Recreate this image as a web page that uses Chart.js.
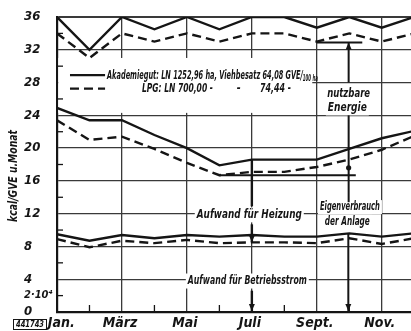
<!DOCTYPE html>
<html>
<head>
<meta charset="utf-8">
<script src="https://cdn.jsdelivr.net/npm/chart.js@4.4.1/dist/chart.umd.min.js"></script>
<style>
html, body { margin: 0; padding: 0; background: #fff; }
#wrap { width: 411px; height: 331px; position: relative; }
</style>
</head>
<body>
<div id="wrap"><canvas id="chart"></canvas></div>
<script>
// Monate, x = Index ab Januar (0 = Jan.)
const monate = ["Jan.", "Feb.", "März", "Apr.", "Mai", "Juni", "Juli", "Aug.", "Sept.", "Okt.", "Nov.", "Dez."];
const xBeschriftung = { 0: "\u2003Jan.", 2: "März", 4: "Mai", 6: "Juli", 8: "Sept.", 10: "Nov." };
const yBeschriftung = { 0: "0", 2: "2·10⁴", 4: "4", 8: "8", 12: "12", 16: "16", 20: "20", 24: "24", 28: "28", 32: "32", 36: "36" };

// obere Kurven: Gesamtaufwand (kcal/GVE u. Monat, x 10^4)
const akademieGesamt = [36, 32, 36, 34.5, 36, 34.5, 36, 36, 34.7, 36, 34.7, 36];
const lpgGesamt      = [34, 31, 34, 33, 34, 33, 34, 34, 33, 34, 33, 34];
// mittlere Kurven: bis Heizung
const akademieHeizung = [24.9, 23.4, 23.4, 21.6, 20.0, 17.9, 18.6, 18.6, 18.6, 19.9, 21.2, 22.1];
const lpgHeizung      = [23.4, 21.0, 21.4, 19.9, 18.2, 16.7, 17.1, 17.1, 17.7, 18.6, 19.8, 21.5];
// untere Kurven: Betriebsstrom
const akademieStrom = [9.5, 8.7, 9.4, 9.0, 9.4, 9.2, 9.4, 9.2, 9.2, 9.6, 9.2, 9.6];
const lpgStrom      = [8.9, 7.9, 8.7, 8.4, 8.8, 8.4, 8.5, 8.5, 8.4, 9.0, 8.3, 9.0];

const SCHRIFT = "'Liberation Sans Narrow', 'DejaVu Sans Condensed', 'Liberation Sans', sans-serif";
const TINTE = "#151515";
const GITTER = "#3a3a3a";

function font(size) { return "italic bold " + size + "px " + SCHRIFT; }

function punkte(werte) {
  return werte.map((v, i) => ({ x: i, y: v }));
}

function linie(werte, gestrichelt) {
  return {
    data: punkte(werte),
    borderColor: TINTE,
    borderWidth: 2.4,
    borderDash: gestrichelt ? [9, 5] : [],
    pointRadius: 0,
    tension: 0,
    fill: false
  };
}

// Text auf Zielbreite zusammendruecken (schmale Normschrift)
function schmalText(ctx, txt, x, y, w, size, align, winkel) {
  ctx.save();
  ctx.font = font(size);
  const mw = ctx.measureText(txt).width;
  const s = w / mw;
  ctx.translate(x, y);
  if (winkel) ctx.rotate(winkel);
  ctx.scale(s, 1);
  ctx.textAlign = align || "center";
  ctx.textBaseline = "middle";
  ctx.fillStyle = TINTE;
  ctx.fillText(txt, 0, 0);
  ctx.restore();
}

// Beschriftungen im Diagramm (m = Monat, v = Wert)
const beschriftung = [
  { t: "nutzbare", m: 8.98, v: 26.6, w: 43, s: 13 },
  { t: "Energie", m: 8.94, v: 24.9, w: 39, s: 13 },
  { t: "Aufwand für Heizung", m: 5.92, v: 11.85, w: 105, s: 13 },
  { t: "Eigenverbrauch", m: 9.02, v: 12.8, w: 60, s: 12 },
  { t: "der Anlage", m: 8.94, v: 11.0, w: 45, s: 12 },
  { t: "Aufwand für Betriebsstrom", m: 5.86, v: 3.78, w: 119, s: 13 }
];

function pfeilspitze(ctx, x, y, richtung) {
  const d = richtung === "hoch" ? 1 : -1;
  ctx.beginPath();
  ctx.moveTo(x, y);
  ctx.lineTo(x - 3, y + d * 7);
  ctx.lineTo(x + 3, y + d * 7);
  ctx.closePath();
  ctx.fill();
}

const zeichnung = {
  id: "zeichnung",
  beforeDatasetsDraw(chart) {
    const ctx = chart.ctx;
    const xs = chart.scales.x, ys = chart.scales.y;
    const P = (m, v) => ({ x: xs.getPixelForValue(m), y: ys.getPixelForValue(v) });

    // Legendenfeld (deckt das Gitter ab)
    const a = P(0.04, 31), b = P(7.86, 24.3);
    ctx.save();
    ctx.fillStyle = "#fff";
    ctx.fillRect(a.x, a.y, b.x - a.x, b.y - a.y);

    // weisse Felder hinter den Texten
    beschriftung.forEach(l => {
      const p = P(l.m, l.v);
      ctx.fillRect(p.x - l.w / 2 - 2, p.y - l.s / 2 - 1, l.w + 4, l.s + 2);
    });
    ctx.restore();

    beschriftung.forEach(l => {
      const p = P(l.m, l.v);
      schmalText(ctx, l.t, p.x, p.y, l.w, l.s);
    });

    // Legende
    const l1 = P(0.4, 28.9), l1e = P(1.48, 28.9);
    const l2 = P(0.4, 27.25), l2e = P(1.48, 27.25);
    ctx.save();
    ctx.strokeStyle = TINTE;
    ctx.lineWidth = 2.2;
    ctx.beginPath(); ctx.moveTo(l1.x, l1.y); ctx.lineTo(l1e.x, l1e.y); ctx.stroke();
    ctx.setLineDash([9, 5]);
    ctx.beginPath(); ctx.moveTo(l2.x, l2.y); ctx.lineTo(l2e.x, l2e.y); ctx.stroke();
    ctx.restore();

    const t1 = P(1.54, 28.9);
    schmalText(ctx, "Akademiegut: LN 1252,96 ha, Viehbesatz 64,08 GVE/", t1.x, t1.y, 196, 13, "left");
    const t1b = P(7.57, 28.4);
    schmalText(ctx, "100 ha", t1b.x, t1b.y, 15, 8, "left");
    const t2 = P(2.615, 27.3);
    schmalText(ctx, "LPG: LN 700,00 -", t2.x, t2.y, 71, 13, "left");
    const t2b = P(5.6, 27.3);
    schmalText(ctx, "-", t2b.x, t2b.y, 4, 13, "center");
    const t2c = P(6.25, 27.3);
    schmalText(ctx, "74,44 -", t2c.x, t2c.y, 31, 13, "left");

    // Achsentitel und Stempel
    schmalText(ctx, "kcal/GVE u.Monat", 14, 176, 92, 13, "center", -Math.PI / 2);
    ctx.save();
    ctx.strokeStyle = TINTE;
    ctx.lineWidth = 1;
    ctx.strokeRect(13.5, 319.5, 33, 10);
    ctx.restore();
    schmalText(ctx, "441743", 30, 324.5, 28, 8);
  },
  afterDatasetsDraw(chart) {
    const ctx = chart.ctx;
    const xs = chart.scales.x, ys = chart.scales.y;
    const P = (m, v) => ({ x: xs.getPixelForValue(m), y: ys.getPixelForValue(v) });
    const area = chart.chartArea;

    ctx.save();
    ctx.strokeStyle = TINTE;
    ctx.fillStyle = TINTE;

    // kleine Teilstriche innen
    ctx.lineWidth = 1.3;
    for (let v = 2; v < 36; v += 4) {
      const y = ys.getPixelForValue(v);
      ctx.beginPath(); ctx.moveTo(area.left, y); ctx.lineTo(area.left + 6, y); ctx.stroke();
    }
    for (let m = 1; m < 11; m += 2) {
      const x = xs.getPixelForValue(m);
      ctx.beginPath(); ctx.moveTo(x, area.bottom); ctx.lineTo(x, area.bottom - 7); ctx.stroke();
    }

    const strich = (m1, v1, m2, v2) => {
      const p = P(m1, v1), q = P(m2, v2);
      ctx.beginPath(); ctx.moveTo(p.x, p.y); ctx.lineTo(q.x, q.y); ctx.stroke();
    };

    ctx.lineWidth = 2;
    // nutzbare Energie
    strich(8.0, 32.9, 9.4, 32.9);
    strich(8.98, 32.9, 8.98, 28);
    let p = P(8.98, 32.9);
    pfeilspitze(ctx, p.x, p.y, "hoch");
    // Eigenverbrauch der Anlage
    strich(8.98, 24.0, 8.98, 13.4);
    p = P(8.98, 17.6);
    ctx.beginPath(); ctx.arc(p.x, p.y, 2.6, 0, Math.PI * 2); ctx.fill();
    strich(5.0, 16.7, 9.2, 16.7);
    strich(8.97, 9.6, 8.97, 0);
    p = P(8.97, 0);
    pfeilspitze(ctx, p.x, p.y - 1, "runter");
    // Aufwand fuer Heizung / Betriebsstrom (Juli)
    ctx.lineWidth = 2.4;
    strich(6, 18.6, 6, 12.9);
    strich(6, 10.7, 6, 8.5);
    p = P(6, 8.5);
    pfeilspitze(ctx, p.x, p.y, "runter");
    strich(6, 2.6, 6, 0);
    p = P(6, 0);
    pfeilspitze(ctx, p.x, p.y - 1, "runter");
    ctx.restore();
  }
};

new Chart(document.getElementById("chart"), {
  type: "line",
  data: {
    datasets: [
      linie(akademieGesamt, false),
      linie(lpgGesamt, true),
      linie(akademieHeizung, false),
      linie(lpgHeizung, true),
      linie(akademieStrom, false),
      linie(lpgStrom, true)
    ]
  },
  options: {
    responsive: true,
    maintainAspectRatio: false,
    animation: false,
    layout: { padding: { left: 24, top: 17, right: 0, bottom: 0 } },
    plugins: { legend: { display: false }, tooltip: { enabled: false } },
    scales: {
      x: {
        type: "linear",
        min: 0,
        max: 10.9,
        afterFit: s => { s.height = 19; },
        border: { display: true, color: TINTE, width: 2.2 },
        grid: {
          drawTicks: false,
          lineWidth: 1.3,
          color: c => (Number.isInteger(c.tick.value) && c.tick.value % 2 === 0 && c.tick.value > 0) ? GITTER : "rgba(0,0,0,0)"
        },
        ticks: {
          stepSize: 1,
          includeBounds: false,
          autoSkip: false,
          maxRotation: 0,
          padding: 3,
          labelOffset: -2,
          color: TINTE,
          font: { family: SCHRIFT, size: 14, style: "italic", weight: "bold" },
          callback: v => xBeschriftung[v] || ""
        }
      },
      y: {
        min: 0,
        max: 36,
        afterFit: s => { s.width = 33; },
        border: { display: true, color: TINTE, width: 2.2 },
        grid: {
          drawTicks: false,
          lineWidth: c => c.tick.value === 36 ? 2 : 1.3,
          color: c => (c.tick.value % 4 === 0 && c.tick.value > 0) ? GITTER : "rgba(0,0,0,0)"
        },
        ticks: {
          stepSize: 2,
          autoSkip: false,
          crossAlign: "far",
          color: TINTE,
          font: c => ({ family: SCHRIFT, size: c.tick && c.tick.value === 2 ? 11 : 13, style: "italic", weight: "bold" }),
          callback: v => yBeschriftung[v] || ""
        }
      }
    }
  },
  plugins: [zeichnung]
});
</script>
</body>
</html>
